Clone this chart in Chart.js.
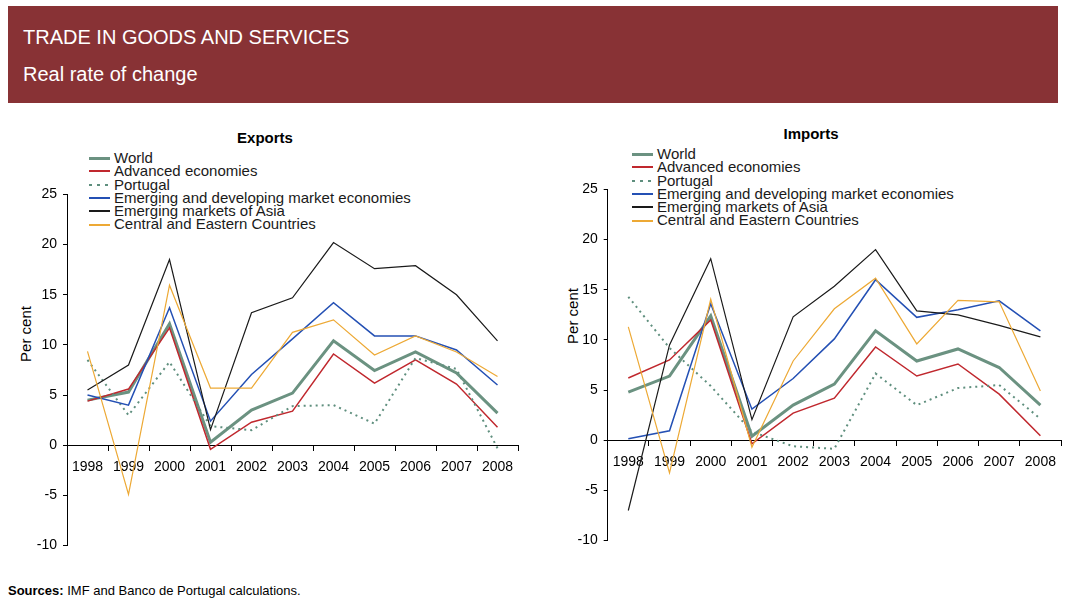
<!DOCTYPE html>
<html>
<head>
<meta charset="utf-8">
<script src="https://cdn.jsdelivr.net/npm/chart.js@4"></script>
<style>
  body { margin: 0; width: 1066px; height: 615px; background: #fff; position: relative; overflow: hidden;
         font-family: "Liberation Sans", Arial, sans-serif; color: #000; }
  .band { position: absolute; left: 8px; top: 6px; width: 1050px; height: 97px; background: #883235; }
  .band div { position: absolute; left: 15px; color: #fff; font-size: 20px; line-height: 23px; white-space: nowrap; }
  canvas { position: absolute; }
  .title { position: absolute; font-weight: bold; font-size: 15px; transform: translate(-50%, -50%); }
  .ylabel { position: absolute; font-size: 15px; transform: translate(-50%, -50%) rotate(-90deg); white-space: nowrap; }
  .legend { position: absolute; font-size: 15px; line-height: 13.3px; color: #1a1a1a; }
  .legend div { white-space: nowrap; height: 13.3px; }
  .legend span { display: inline-block; width: 21px; vertical-align: middle; margin-right: 4px; margin-top: -2px; }
  .src { position: absolute; left: 8px; top: 583px; font-size: 13px; line-height: 16px; }
</style>
</head>
<body>
<div class="band">
  <div style="top:20px">TRADE IN GOODS AND SERVICES</div>
  <div style="top:57px">Real rate of change</div>
</div>

<div class="title" style="left:265px; top:137px">Exports</div>
<div class="title" style="left:811px; top:133px">Imports</div>
<div class="ylabel" style="left:25px; top:334px">Per cent</div>
<div class="ylabel" style="left:572px; top:316px">Per cent</div>
<div class="legend" id="legendLeft" style="left:89px; top:151px"></div>
<div class="legend" id="legendRight" style="left:632px; top:147px"></div>

<canvas id="exportsChart" width="530" height="380" style="left:0px; top:180px"></canvas>
<canvas id="importsChart" width="526" height="380" style="left:540px; top:175px"></canvas>

<div class="src"><b>Sources:</b> IMF and Banco de Portugal calculations.</div>

<script>
// categories
const years = ["1998", "1999", "2000", "2001", "2002", "2003", "2004", "2005", "2006", "2007", "2008"];
const seriesNames = [
  "World",
  "Advanced economies",
  "Portugal",
  "Emerging and developing market economies",
  "Emerging markets of Asia",
  "Central and Eastern Countries"
];
const yTicks = [-10, -5, 0, 5, 10, 15, 20, 25];

// exports, real rate of change (%)
const exportsWorld    = [4.5, 5.3, 12.1, 0.3, 3.5, 5.2, 10.4, 7.45, 9.3, 7.2, 3.2];
const exportsAdvanced = [4.4, 5.6, 11.7, -0.4, 2.3, 3.4, 9.1, 6.2, 8.5, 6.1, 1.8];
const exportsPortugal = [8.5, 3.0, 8.3, 1.9, 1.5, 3.9, 4.0, 2.15, 8.7, 7.6, -0.3];
const exportsEmerging = [5.0, 4.0, 13.7, 2.4, 7.05, 10.6, 14.2, 10.9, 10.9, 9.5, 6.0];
const exportsAsia     = [5.5, 8.0, 18.5, 1.55, 13.2, 14.7, 20.2, 17.6, 17.9, 15.0, 10.4];
const exportsCEC      = [9.35, -4.9, 15.95, 5.7, 5.7, 11.25, 12.5, 9.0, 10.9, 9.3, 6.85];

// imports, real rate of change (%)
const importsWorld    = [4.8, 6.4, 12.4, 0.4, 3.5, 5.6, 10.9, 7.9, 9.1, 7.25, 3.5];
const importsAdvanced = [6.2, 8.0, 12.0, -0.35, 2.7, 4.2, 9.3, 6.4, 7.6, 4.6, 0.45];
const importsPortugal = [14.3, 9.2, 5.4, 0.85, -0.6, -0.85, 6.65, 3.5, 5.2, 5.5, 2.15];
const importsEmerging = [0.15, 0.95, 13.6, 3.1, 6.15, 10.1, 16.0, 12.25, 13.0, 13.9, 10.9];
const importsAsia     = [-7.0, 9.5, 18.1, 2.05, 12.3, 15.35, 19.0, 12.9, 12.5, 11.45, 10.3];
const importsCEC      = [11.3, -3.25, 14.05, -0.7, 7.9, 13.1, 16.15, 9.6, 13.95, 13.8, 4.9];

// styles per series
const colors = ["#6b9281", "#c0282e", "#5f8f7e", "#2450b4", "#1a1a1a", "#eda935"];
const widths = [3, 1.5, 2, 1.5, 1.2, 1.2];
const legendWidths = [3, 2, 2, 2, 2, 2];
const dashes = [[], [], [2, 4], [], [], []];

function makeDatasets(values) {
  return values.map((v, i) => ({
    label: seriesNames[i],
    data: v,
    borderColor: colors[i],
    borderWidth: widths[i],
    borderDash: dashes[i],
    pointRadius: 0,
    tension: 0,
    fill: false
  })).reverse(); // World drawn on top
}

function makeLegend(id) {
  const el = document.getElementById(id);
  seriesNames.forEach((name, i) => {
    const row = document.createElement("div");
    const line = document.createElement("span");
    line.style.height = legendWidths[i] + "px";
    if (dashes[i].length) {
      line.style.background = "repeating-linear-gradient(to right," + colors[i] + " 0 3px, transparent 3px 8px)";
    } else {
      line.style.background = colors[i];
    }
    row.appendChild(line);
    row.appendChild(document.createTextNode(name));
    el.appendChild(row);
  });
}

function makeChart(canvasId, values, yAxisWidth, pad) {
  return new Chart(document.getElementById(canvasId), {
    type: "line",
    data: { labels: years, datasets: makeDatasets(values) },
    options: {
      responsive: false,
      animation: false,
      layout: { padding: pad },
      plugins: { legend: { display: false }, tooltip: { enabled: false } },
      scales: {
        x: {
          type: "category",
          offset: true,
          position: { y: 0 },
          grid: { offset: true, drawOnChartArea: false, tickLength: 5, color: "#000" },
          border: { display: true, color: "#000", width: 1 },
          ticks: { color: "#000", font: { size: 14, family: "Liberation Sans" }, padding: 8, maxRotation: 0, autoSkip: false }
        },
        y: {
          min: -10,
          max: 25,
          afterBuildTicks: (scale) => { scale.ticks = yTicks.map((v) => ({ value: v })); },
          afterFit: (scale) => { scale.width = yAxisWidth; },
          grid: { drawOnChartArea: false, tickLength: 4, color: "#000" },
          border: { display: true, color: "#000", width: 1 },
          ticks: { color: "#000", font: { size: 14, family: "Liberation Sans" }, padding: 6 }
        }
      }
    }
  });
}

makeLegend("legendLeft");
makeLegend("legendRight");

makeChart("exportsChart",
  [exportsWorld, exportsAdvanced, exportsPortugal, exportsEmerging, exportsAsia, exportsCEC],
  67, { left: 0, right: 12, top: 12.3, bottom: 13.3 });

makeChart("importsChart",
  [importsWorld, importsAdvanced, importsPortugal, importsEmerging, importsAsia, importsCEC],
  67.7, { left: 0, right: 5, top: 10.7, bottom: 12.7 });
</script>
</body>
</html>
